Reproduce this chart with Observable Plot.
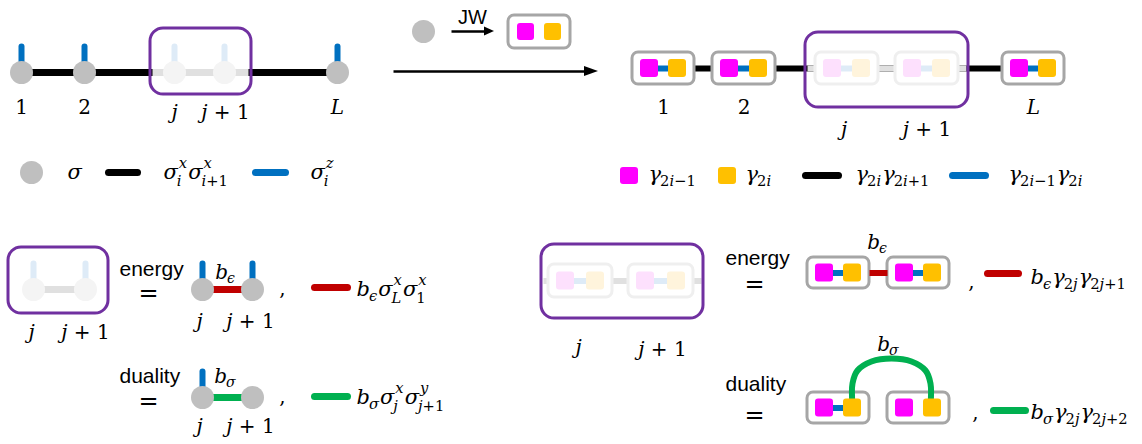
<!DOCTYPE html>
<html><head><meta charset="utf-8">
<script src="https://cdn.jsdelivr.net/npm/d3@7"></script>
<script src="https://cdn.jsdelivr.net/npm/@observablehq/plot@0.6"></script>
<style>body{margin:0;background:#fff} #chart svg{display:block}</style>
</head><body><div id="chart"></div>
<script>
const W = 1142, H = 444;
const SERIF = '"DejaVu Serif", serif';
const SANS = '"Liberation Sans", Arial, sans-serif';
const EQF = '"DejaVu Sans", sans-serif';
const COL = {
  node:"#bfbfbf", fadeNode:"#f4f4f4", bond:"#000000", fadeBond:"#e0e0e0",
  z:"#0070c0", fadeZ:"#deebf7", purple:"#7030a0", box:"#a6a6a6", fadeBox:"#efefef",
  mag:"#ff00ff", fadeMag:"#fde0fd", yel:"#ffc000", fadeYel:"#fff4dc",
  red:"#c00000", green:"#00b050"
};

// ---------------- data ----------------
// spin chain (top left)
const spinSites = [
  {label:"1", x:21, faded:false}, {label:"2", x:84, faded:false},
  {label:"j", x:174, faded:true}, {label:"j + 1", x:224, faded:true},
  {label:"L", x:337, faded:false}
];
const spinChain = {y:72, window:[150, 251, 28, 94]};
// Majorana chain (top right)
const majSites = [
  {label:"1", x1:632, x2:694, faded:false}, {label:"2", x1:712, x2:775, faded:false},
  {label:"j", x1:815, x2:878, faded:true}, {label:"j + 1", x1:895, x2:958, faded:true},
  {label:"L", x1:1002, x2:1064, faded:false}
];
const majChain = {y1:52, y2:84, window:[805, 968, 32, 107]};
// legends
const spinLegend = [
  {kind:"node", x:31, label:"σ", tx:67},
  {kind:"bond", x:108, x2:137, label:"σ_{i}^{x}σ_{i+1}^{x}", tx:163},
  {kind:"z", x:255, x2:285, label:"σ_{i}^{z}", tx:310}
];
const majLegend = [
  {kind:"mag", x:620, label:"γ_{2i−1}", tx:648},
  {kind:"yel", x:718, label:"γ_{2i}", tx:745},
  {kind:"bond", x:805, x2:838, label:"γ_{2i}γ_{2i+1}", tx:855},
  {kind:"z", x:952, x2:985, label:"γ_{2i−1}γ_{2i}", tx:1008}
];
// equations (bottom)
const spinEquations = [
  {name:"energy", y:289, nameY:275, eqY:293, coupling:"b_{ϵ}", cy:278, color:"red", sticks:[true,true],
   labelY:327, term:"b_{ϵ}σ_{L}^{x}σ_{1}^{x}", termY:295, legendY:287},
  {name:"duality", y:397, nameY:382, eqY:401, coupling:"b_{σ}", cy:382, color:"green", sticks:[true,false],
   labelY:432, term:"b_{σ}σ_{j}^{x}σ_{j+1}^{y}", termY:403, legendY:396}
];
const majEquations = [
  {name:"energy", y1:257, y2:288, nameY:264, eqY:283.5, coupling:"b_{ϵ}", cx:877, cy:248, color:"red", connectors:[true,true],
   term:"b_{ϵ}γ_{2j}γ_{2j+1}", termY:283, legendY:273, comma:971, commaY:287, lx:987, lx2:1018},
  {name:"duality", y1:392, y2:423, nameY:390, eqY:415, coupling:"b_{σ}", cx:888, cy:350, color:"green", connectors:[true,false],
   term:"b_{σ}γ_{2j}γ_{2j+2}", termY:418, legendY:410, comma:975, commaY:418, lx:993, lx2:1025}
];
const majWindow = {x1:541, x2:703, y1:244, y2:318, boxes:[[548, 612], [628, 693]], by1:264, by2:297};
const arcPoints = [
  {x:852, y:405}, {x:852, y:383}, {x:857, y:370}, {x:871, y:361}, {x:891, y:358},
  {x:911, y:361}, {x:925, y:370}, {x:930, y:383}, {x:930, y:405}
];

// ---------------- geometry builders ----------------
const segB = [], segM = [], segR = [], dots = [], rects = [], sqs = [], purple = [], txt = [], sans = [], eqs = [], heads = [];
const ctx = document.createElement("canvas").getContext("2d");
function tw(t, size, it){ ctx.font = `${it ? "italic " : ""}${size}px ${SERIF}`; return ctx.measureText(t).width; }
function runs(s){
  const out = []; let cur = null;
  for (const ch of s){
    const it = /[A-Za-zα-ωϵ]/.test(ch);
    if (cur && cur.it === it) cur.t += ch; else { cur = {t:ch, it}; out.push(cur); }
  }
  return out;
}
function parse(s){
  const c = [...s]; let i = 0; const toks = [];
  const group = () => { if (c[i] === "{"){ let j = i + 1, g = ""; while (c[j] !== "}") g += c[j++]; i = j + 1; return g; } return c[i++]; };
  while (i < c.length){
    const t = {base:c[i++], sub:null, sup:null};
    while (c[i] === "_" || c[i] === "^"){ const k = c[i++]; const g = group(); if (k === "_") t.sub = g; else t.sup = g; }
    toks.push(t);
  }
  return toks;
}
function math(s, x, y, size = 20, anchor = "start"){
  const fr = []; let cx = 0; const ss = size * 0.7;
  const put = (str, x0, yy, sz) => { let xx = x0; for (const r of runs(str)){ fr.push({x:xx, y:yy, t:r.t, size:sz, it:r.it}); xx += tw(r.t, sz, r.it); } return xx - x0; };
  for (const t of parse(s)){
    cx += put(t.base, cx, 0, size);
    let adv = 0;
    const both = t.sup && t.sub;
    if (t.sup) adv = Math.max(adv, put(t.sup, cx + 1, -(both ? 0.5 : 0.42) * size, ss) + 1);
    if (t.sub) adv = Math.max(adv, put(t.sub, cx - 1, (both ? 0.36 : 0.24) * size, ss) - 1);
    cx += adv ? adv + 0.05 * size : 0;
  }
  const off = anchor === "middle" ? -cx / 2 : 0;
  for (const f of fr) txt.push({...f, x:f.x + x + off, y:f.y + y});
}
function arrow(x1, x2, y, hl, hw, sw){
  segM.push({x1, y1:y, x2:x2 - hl + 1, y2:y, stroke:"#000", w:sw});
  heads.push({id:heads.length, x:x2 - hl, lo:y - hw, hi:y + hw}, {id:heads.length, x:x2, lo:y, hi:y});
}
function majBox(x1, x2, y1, y2, faded, connector, inset, size){
  rects.push({x1, x2, y1, y2, stroke: faded ? COL.fadeBox : COL.box});
  const yc = (y1 + y2) / 2;
  if (connector) segM.push({x1:x1 + inset + size - 1, y1:yc, x2:x2 - inset - size + 1, y2:yc, stroke: faded ? COL.fadeZ : COL.z, w:6});
  sqs.push({x1:x1 + inset, x2:x1 + inset + size, y1:yc - size / 2, y2:yc + size / 2, fill: faded ? COL.fadeMag : COL.mag});
  sqs.push({x1:x2 - inset - size, x2:x2 - inset, y1:yc - size / 2, y2:yc + size / 2, fill: faded ? COL.fadeYel : COL.yel});
}
function spinNode(x, y, faded, stick){
  if (stick) segR.push({x1:x, y1:y - 26, x2:x, y2:y, stroke: faded ? COL.fadeZ : COL.z, w:6});
  dots.push({x, y, fill: faded ? COL.fadeNode : COL.node});
}

// --- top-left spin chain
{
  const y = spinChain.y, w = spinChain.window;
  segB.push({x1:spinSites[0].x, y1:y, x2:spinSites.at(-1).x, y2:y, stroke:COL.bond, w:7});
  segB.push({x1:w[0] + 2, y1:y, x2:w[1] - 3, y2:y, stroke:COL.fadeBond, w:7});
  for (const s of spinSites){
    spinNode(s.x, y, s.faded, true);
    math(s.label, s.x + (s.faded && s.label !== "j" ? 1 : 0), s.faded ? 118 : 113, 20, "middle");
  }
  purple.push({x1:w[0], x2:w[1], y1:w[2], y2:w[3]});
}
// --- spin legend
for (const l of spinLegend){
  if (l.kind === "node") dots.push({x:l.x, y:172, fill:COL.node});
  else segR.push({x1:l.x, y1:172, x2:l.x2, y2:172, stroke:COL[l.kind], w:7});
  math(l.label, l.tx, 178, 21);
}
// --- JW mapping
dots.push({x:423, y:31, fill:COL.node});
sans.push({x:472, y:23, t:"JW", size:20, anchor:"middle"});
arrow(451, 494, 31, 10, 4.5, 2.5);
majBox(508, 570, 15, 48, false, false, 9, 17);
arrow(393, 598, 71, 14, 5, 2.5);
// --- top-right Majorana chain
{
  const yc = (majChain.y1 + majChain.y2) / 2, w = majChain.window;
  segB.push({x1:(majSites[0].x1 + majSites[0].x2) / 2, y1:yc, x2:(majSites.at(-1).x1 + majSites.at(-1).x2) / 2, y2:yc, stroke:COL.bond, w:6});
  segB.push({x1:w[0] + 2, y1:yc, x2:w[1] - 2, y2:yc, stroke:COL.fadeBond, w:6});
  for (const s of majSites){
    majBox(s.x1, s.x2, majChain.y1, majChain.y2, s.faded, true, 8, 18);
    math(s.label, (s.x1 + s.x2) / 2 - (s.label === "j" ? 3 : 0), s.faded ? 135 : 113, 20, "middle");
  }
  purple.push({x1:w[0], x2:w[1], y1:w[2], y2:w[3]});
}
// --- Majorana legend
for (const l of majLegend){
  if (l.kind === "mag" || l.kind === "yel") sqs.push({x1:l.x, x2:l.x + 18, y1:167, y2:184, fill:COL[l.kind]});
  else segR.push({x1:l.x, y1:175, x2:l.x2, y2:175, stroke:COL[l.kind], w:7});
  math(l.label, l.tx, 180, 21);
}
// --- bottom-left: spin window
{
  const y = 289;
  segB.push({x1:33, y1:y, x2:85, y2:y, stroke:COL.fadeBond, w:7});
  spinNode(33, y, true, true); spinNode(85, y, true, true);
  purple.push({x1:8, x2:108, y1:247, y2:313});
  math("j", 31, 338, 20, "middle"); math("j + 1", 85, 338, 20, "middle");
  for (const e of spinEquations){
    sans.push({x:119, y:e.nameY, t:e.name, size:21, anchor:"start"});
    eqs.push({x:148, y:e.eqY});
    segB.push({x1:202, y1:e.y, x2:252, y2:e.y, stroke:COL[e.color], w:7});
    spinNode(202, e.y, false, e.sticks[0]); spinNode(252, e.y, false, e.sticks[1]);
    math(e.coupling, 225, e.cy, 20, "middle");
    math("j", 199, e.labelY, 20, "middle"); math("j + 1", 250, e.labelY, 20, "middle");
    math(",", 282, e.y + 5, 20, "middle");
    segR.push({x1:314, y1:e.legendY, x2:347, y2:e.legendY, stroke:COL[e.color], w:7});
    math(e.term, 356, e.termY, 21);
  }
}
// --- bottom-right: Majorana window
{
  const w = majWindow, yc = (w.by1 + w.by2) / 2;
  segB.push({x1:w.x1 + 2, y1:yc, x2:w.x2 - 2, y2:yc, stroke:COL.fadeBond, w:6});
  for (const [a, b] of w.boxes) majBox(a, b, w.by1, w.by2, true, true, 8, 18);
  purple.push({x1:w.x1, x2:w.x2, y1:w.y1, y2:w.y2});
  math("j", 578, 353, 20, "middle"); math("j + 1", 662, 355, 20, "middle");
  for (const e of majEquations){
    sans.push({x:725, y:e.nameY, t:e.name, size:21, anchor:"start"});
    eqs.push({x:754, y:e.eqY});
    const yc2 = (e.y1 + e.y2) / 2;
    if (e.color === "red") segM.push({x1:869, y1:yc2, x2:887, y2:yc2, stroke:COL.red, w:6});
    majBox(807, 869, e.y1, e.y2, false, e.connectors[0], 8, 18);
    majBox(887, 949, e.y1, e.y2, false, e.connectors[1], 8, 18);
    math(e.coupling, e.cx, e.cy, 20, "middle");
    math(",", e.comma, e.commaY, 20, "middle");
    segR.push({x1:e.lx, y1:e.legendY, x2:e.lx2, y2:e.legendY, stroke:COL[e.color], w:7});
    math(e.term, 1030, e.termY, 21);
  }
}

// ---------------- plot ----------------
const link = (data, cap) => Plot.link(data, {x1:"x1", y1:"y1", x2:"x2", y2:"y2", stroke:"stroke", strokeWidth:d => d.w, strokeLinecap:cap});
const chart = Plot.plot({
  width: W, height: H, margin: 0,
  x: {domain:[0, W], range:[0, W], axis:null},
  y: {domain:[0, H], range:[0, H], axis:null},
  color: {type:"identity"},
  style: {background:"#fff", overflow:"visible"},
  marks: [
    link(segB, "butt"),
    Plot.rect(rects, {x1:"x1", x2:"x2", y1:"y1", y2:"y2", fill:"#fff", stroke:"stroke", strokeWidth:3, rx:6}),
    Plot.line(arcPoints, {x:"x", y:"y", stroke:COL.green, strokeWidth:6, curve:"catmull-rom"}),
    link(segM, "butt"),
    Plot.areaY(heads, {x:"x", y1:"lo", y2:"hi", z:"id", fill:"#000"}),
    Plot.rect(sqs, {x1:"x1", x2:"x2", y1:"y1", y2:"y2", fill:"fill", rx:3}),
    link(segR, "round"),
    Plot.dot(dots, {x:"x", y:"y", r:11.5, fill:"fill"}),
    Plot.rect(purple, {x1:"x1", x2:"x2", y1:"y1", y2:"y2", fill:"none", stroke:COL.purple, strokeWidth:3, rx:13}),
    Plot.text(txt.filter(d => d.it), {x:"x", y:"y", text:"t", fontSize:d => d.size, fontFamily:SERIF, fontStyle:"italic", textAnchor:"start", lineAnchor:"bottom", fill:"#000"}),
    Plot.text(txt.filter(d => !d.it), {x:"x", y:"y", text:"t", fontSize:d => d.size, fontFamily:SERIF, textAnchor:"start", lineAnchor:"bottom", fill:"#000"}),
    Plot.text(sans.filter(d => d.anchor === "start"), {x:"x", y:"y", text:"t", fontSize:d => d.size, fontFamily:SANS, textAnchor:"start", lineAnchor:"bottom", fill:"#000"}),
    Plot.text(sans.filter(d => d.anchor === "middle"), {x:"x", y:"y", text:"t", fontSize:d => d.size, fontFamily:SANS, textAnchor:"middle", lineAnchor:"bottom", fill:"#000"}),
    Plot.text(eqs, {x:"x", y:"y", text:() => "=", fontSize:24, fontFamily:EQF, textAnchor:"middle", lineAnchor:"middle", fill:"#000"})
  ]
});
document.getElementById("chart").append(chart);
</script>
</body></html>
